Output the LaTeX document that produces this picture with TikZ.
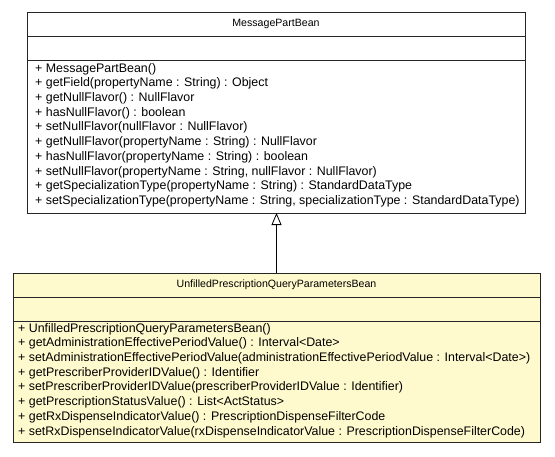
\documentclass[tikz,border=0pt]{standalone}
\usepackage{fontspec}
\setmainfont{Liberation Sans}
\usetikzlibrary{positioning,arrows.meta}

\definecolor{umlyellow}{RGB}{255,250,205}

\tikzset{
  compart/.style={draw=black!85, line width=0.9pt, inner sep=0pt, outer sep=0pt,
    font=\fontsize{10.6}{12}\selectfont},
  optext/.style={inner sep=0pt, align=left, font=\fontsize{12.4}{14.7}\selectfont},
  inherit/.style={-{Triangle[open, length=12pt, width=10pt]}, line width=0.8pt}
}

\begin{document}
\begin{tikzpicture}[x=1pt,y=-1pt]
  \useasboundingbox (0,0) rectangle (555,456);

  % Superclass
  \node[compart, fill=white, minimum width=498pt, minimum height=24pt] (mpbName) at (276,24) {MessagePartBean};
  \node[compart, fill=white, minimum width=498pt, minimum height=24pt, below=0pt of mpbName] (mpbAttr) {};
  \node[compart, fill=white, minimum width=498pt, minimum height=153pt, below=0pt of mpbAttr] (mpbOps) {};
  \node[optext, anchor=north west] (mpbOpsText) at ([xshift=8pt,yshift=-3pt]mpbOps.north west) {%
    + MessagePartBean()\\
    + getField(propertyName : String) : Object\\
    + getNullFlavor() : NullFlavor\\
    + hasNullFlavor() : boolean\\
    + setNullFlavor(nullFlavor : NullFlavor)\\
    + getNullFlavor(propertyName : String) : NullFlavor\\
    + hasNullFlavor(propertyName : String) : boolean\\
    + setNullFlavor(propertyName : String, nullFlavor : NullFlavor)\\
    + getSpecializationType(propertyName : String) : StandardDataType\\
    + setSpecializationType(propertyName : String, specializationType : StandardDataType)};

  % Subclass
  \node[compart, fill=umlyellow, minimum width=527pt, minimum height=24pt] (upqName) at (276.5,285) {UnfilledPrescriptionQueryParametersBean};
  \node[compart, fill=umlyellow, minimum width=527pt, minimum height=24pt, below=0pt of upqName] (upqAttr) {};
  \node[compart, fill=umlyellow, minimum width=527pt, minimum height=121pt, below=0pt of upqAttr] (upqOps) {};
  \node[optext, anchor=north west] (upqOpsText) at ([xshift=5pt,yshift=-2pt]upqOps.north west) {%
    + UnfilledPrescriptionQueryParametersBean()\\
    + getAdministrationEffectivePeriodValue() : Interval<Date>\\
    + setAdministrationEffectivePeriodValue(administrationEffectivePeriodValue : Interval<Date>)\\
    + getPrescriberProviderIDValue() : Identifier\\
    + setPrescriberProviderIDValue(prescriberProviderIDValue : Identifier)\\
    + getPrescriptionStatusValue() : List<ActStatus>\\
    + getRxDispenseIndicatorValue() : PrescriptionDispenseFilterCode\\
    + setRxDispenseIndicatorValue(rxDispenseIndicatorValue : PrescriptionDispenseFilterCode)};

  % Generalisation
  \draw[inherit] (upqName.north) -- (upqName.north |- mpbOps.south);
\end{tikzpicture}
\end{document}
